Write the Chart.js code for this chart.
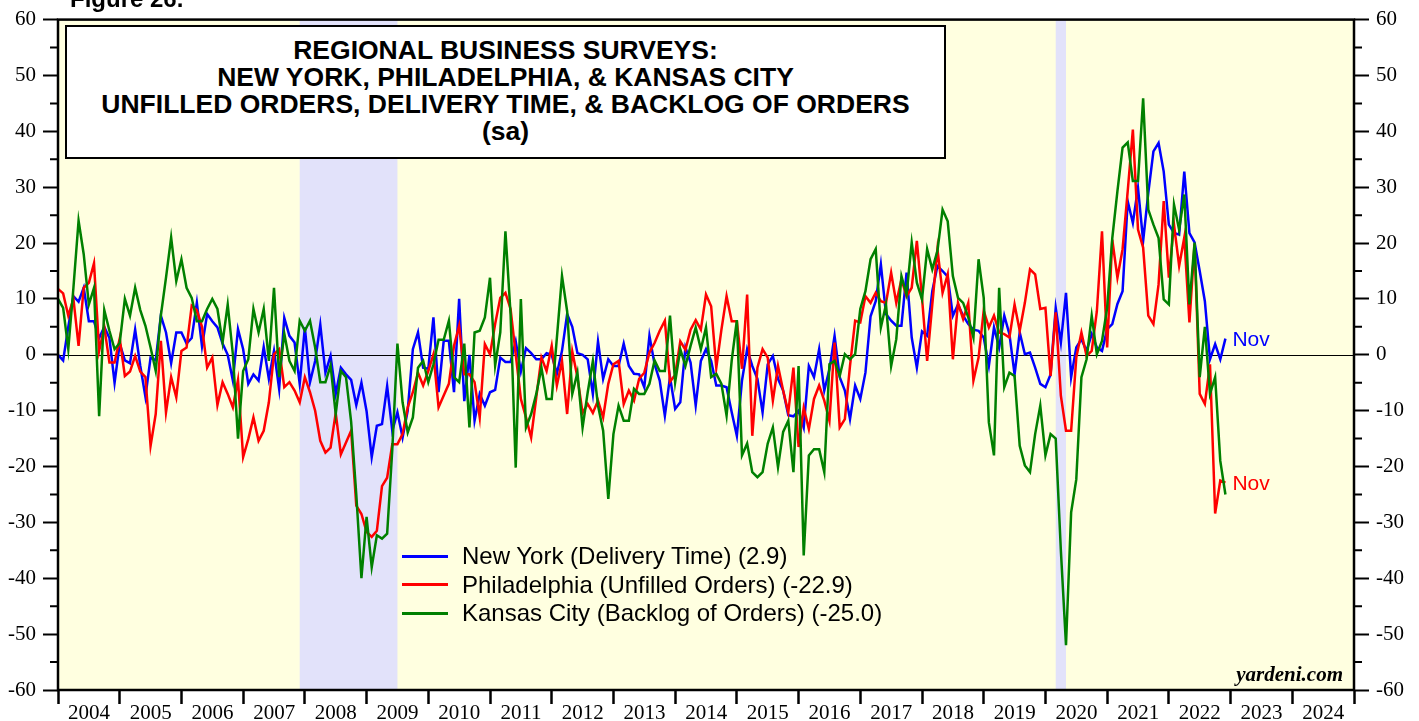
<!DOCTYPE html>
<html lang="en">
<head>
<meta charset="UTF-8">
<title>Regional Business Surveys: New York, Philadelphia, & Kansas City</title>
<script src="https://cdn.jsdelivr.net/npm/chart.js"></script>
<style>
    body { margin: 0; background: #fff; }
    #wrap { position: relative; width: 1419px; height: 721px; overflow: hidden; }
    #chart { position: absolute; left: 0; top: 0; }
    .sans { font-family: 'Liberation Sans', Arial, sans-serif; }
    #fig { position: absolute; left: 70px; top: -15px; font-size: 24px; font-weight: bold; }
    #titlebox {
        position: absolute; left: 65px; top: 25px; width: 881px; height: 134px;
        box-sizing: border-box; border: 2px solid #000; background: #fff;
        font-size: 26.5px; font-weight: bold; line-height: 27px; text-align: center; padding-top: 10px;
    }
    #legend { position: absolute; left: 402px; top: 542px; font-size: 24px; line-height: 28.5px; }
    #legend .row { display: flex; align-items: center; white-space: nowrap; }
    #legend .sw { display: inline-block; width: 46px; height: 3px; margin-right: 14px; }
    #src {
        position: absolute; right: 76px; top: 662px;
        font-family: 'Liberation Serif', 'Times New Roman', serif;
        font-size: 21px; font-weight: bold; font-style: italic;
    }
    .nov { position: absolute; font-size: 21px; line-height: 21px; }
</style>
</head>
<body>
<div id="wrap">
    <canvas id="chart" width="1419" height="721"></canvas>
    <div id="fig" class="sans">Figure 26.</div>
    <div id="titlebox" class="sans">
        REGIONAL BUSINESS SURVEYS:<br>
        NEW YORK, PHILADELPHIA, &amp; KANSAS CITY<br>
        UNFILLED ORDERS, DELIVERY TIME, &amp; BACKLOG OF ORDERS<br>
        (sa)
    </div>
    <div id="legend" class="sans"></div>
    <div id="src">yardeni.com</div>
    <div id="novNY" class="nov sans" style="color:#0000ff">Nov</div>
    <div id="novPH" class="nov sans" style="color:#ff0000">Nov</div>
</div>

<script>
    // monthly readings, first point plotted at the start of 2004
    var startYear = 2004;

    var nyValues = [
        0, -1, 5, 10.5, 9.5, 12, 6, 6, 3, 5, 3, -5,
        2, -1, -1.5, 4.5, -2, -7.5, -0.5, -1, 7, 4, -1.5, 4,
        4, 2, 3, 9.3, 1.5, 7.3, 6, 4.9, 2, 0, -4.6, 4.6,
        1, -5.2, -3.5, -4.6, 1.4, -4.3, 0.7, -6.1, 6.6, 3.4, 2.2, -5.2,
        4.9, -4.9, -1.1, 5.4, -3.2, -0.2, -7, -2.3, -3.5, -4.5, -9, -5,
        -10.1, -18.3, -12.7, -12.4, -5.6, -13.6, -10.3, -14.8, -10, 1, 4, -2.3,
        -2.5, 6.7, -6.7, 2.5, 2.5, -6.7, 10, -8.3, 0, -11.8, -7, -9.1,
        -6.7, -6.3, -0.5, -1.3, -1.3, 2.4, -3, 1.2, 0.3, -0.8, -0.8, 0.3,
        0, -3.4, 0.7, 7.3, 5, 0.3, 0, -0.8, -7, 2.4, -4.3, -0.8,
        -2, -2, 2, -2, -3.4, -3.5, -5.8, 3.4, -1.7, -4.6, -10.9, -4,
        -9.7, -8.5, 1.3, -1.4, -9.1, -1.1, 1, -1.1, -5.5, -5.5, -5.8, -10.3,
        -14.5, -4.6, 1, -2, -4.3, -10.3, -1.7, -0.2, -4.3, -6.4, -10.8, -11,
        -10, -13, -2, -4, 1, -6.4, -2.6, 3.4, -4, -6.4, -11.5, -5.5,
        -7.9, -3.2, 6.9, 9.6, 16.2, 7.3, 6.1, 5.2, 5.2, 14.7, 3.1, -2.3,
        4.2, 3.4, 11.4, 15.9, 15, 14, 7, 9, 7, 5.5, 4.5, 4.3,
        3.1, -2, 4.9, 1.3, 7, 3.7, -3.5, 4, 0.1, 0.4, -2.3, -5.2,
        -5.8, -3.5, 8.4, 2.2, 11.1, -4, 1.3, 2.8, 0.7, 3.7, 1.3, 0.7,
        4.6, 5.5, 9.1, 11.4, 27.5, 23.6, 29.9, 20.4, 29, 36.4, 37.9, 32.8,
        23.3, 21.8, 21.5, 32.8, 21.8, 20.1, 15, 9.6, -0.8, 1.9, -0.8, 2.9
    ];

    var phValues = [
        11.8, 11, 7, 10, 1.6, 12, 12.9, 16.4, 0.7, 5, -1.4, -1.4,
        2.9, -3.8, -3, -0.2, -3, -4, -16.3, -10.6, 2.5, -10.3, -4, -7.6,
        0.7, 1.3, 8.8, 8, 5, -2.3, -0.5, -9, -4.9, -7, -9.4, -4.5,
        -18.3, -15.1, -11.2, -15.4, -13.6, -8.5, 0.1, 1, -5.8, -4.9, -6.4, -8.5,
        -4, -6.7, -10, -15.4, -17.5, -16.6, -10.4, -17.8, -15.7, -13.6, -27, -28.5,
        -31.7, -32.6, -31.5, -23.5, -22, -16, -16, -14.2, -9.4, -6.7, -3.2, -5.5,
        -2.9, 0.1, -9.4, -7.3, -5.2, 1.6, 5.2, -3.5, -3.5, -4.9, -11.2, 1.9,
        0.1, 5.5, 10.2, 11.1, 8.2, 0.1, -7.9, -11.2, -14.8, -7.6, -0.5, -2.9,
        1.6, -5.5, -1.1, -10.6, 0.6, -4, -10.4, -8.8, -10.4, -8.2, -11.2, -5.2,
        -1.7, -1.1, -8.8, -6.4, -8.2, -4.3, -3.2, 0.4, 2.1, 4.3, 6.1, -4.8,
        -3.6, 2.4, 0.9, 4.5, 6.2, 4.5, 10.8, 8.7, -2.3, 4.5, 10.5, 6,
        6, -2.5, 10.8, -14.5, -2.3, 1, -0.5, -8.2, -2, -6.4, -10.3, -2.3,
        -16.5, -9.5, -13.3, -7.9, -5.5, -8.2, -11.8, 2.2, -13, -11.5, -2, 6.1,
        5.8, 10.5, 9.3, 11.1, 9.6, 9.3, 14.7, 9.3, 13.5, 10.5, 12, 20.4,
        10.2, -1.1, 9, 18.9, 11.1, 14.4, -0.8, 9.3, 6.4, 9.3, -4.6, -0.5,
        7.9, 4.9, 7, 4, 3.7, 3.1, 9, 4.3, 9.3, 15.3, 14.4, 8.2,
        8.4, -3.8, 7.6, -7.3, -13.6, -13.6, -0.5, 4, -0.2, 0.7, 7.8, 22.1,
        1.3, 20.6, 13.8, 18.9, 29.3, 40.3, 22.4, 19.2, 7, 5.5, 12.6, 27.5,
        13.8, 23.3, 15.9, 21, 5.8, 19.8, -7, -8.8, -1.7, -28.4, -22.5, -22.9
    ];

    var kcValues = [
        10, 8.4, 1, 12, 24, 18, 9, 12, -11, 8, 4.3, 1,
        2.1, 10, 7, 12, 8, 5.2, 1.3, -2.9, 7, 13.8, 21, 13.2,
        17.1, 12, 10.2, 6, 6, 8.2, 10, 8.2, 2.2, 9, 0.1, -15,
        -2.9, -0.8, 8.2, 4, 8.2, -1.1, 12, -4, 3.8, -1.1, -2.9, 6.1,
        4.3, 6.1, 1.3, -4.9, -4.9, -1.9, -10.6, -2.9, -4, -12, -25, -40,
        -29, -38, -32.3, -32.9, -32, -17, 2, -8.5, -13.9, -11.2, -2.3, -1.1,
        -4.9, -1.7, 2.7, 2.7, 6.1, -4, -4.9, 2, -13, 4, 4.3, 6.7,
        13.8, -1.9, 4, 22.1, 7.3, -20.2, 10, -13, -10.6, -7, -2.3, -7.9,
        -7.9, 3, 14.1, 7.8, -7, -3.2, -13, -6.7, -1.1, -9.1, -13.6, -25.8,
        -14.2, -9.1, -11.8, -11.8, -6.1, -7, -7, -5.2, -1, -2.9, -2.9, 7,
        -4.9, 1, -2, 1.6, 4.9, 1, 4.9, -4, -3.4, -5.2, -10.9, -1,
        6.2, -18, -15.9, -21, -21.9, -21, -15.9, -13, -20.1, -13.8, -11.8, -21,
        -2, -35.9, -18, -16.9, -16.9, -21, -1.7, -1.1, -3.8, 0.1, -0.8, 0.1,
        8.2, 11.4, 17.1, 18.9, 4.9, 9, -2, 2.8, 14.1, 10.8, 20.1, 12.9,
        9.9, 18.9, 15.3, 18.6, 26, 23.9, 14.1, 10.2, 9.3, 6.7, 3.1, 17.1,
        10.2, -12.1, -18, 12, -5.8, -3.2, -3.8, -16.3, -19.8, -21, -14.2, -9.1,
        -18, -14.2, -15, -35, -52, -28.2, -22.3, -4, -0.8, 7, 0.1, 2.5,
        8.4, 20.9, 29.3, 37.1, 38, 31.1, 31.1, 45.9, 26, 23.3, 20.9, 9.9,
        9, 26.9, 22.4, 28.7, 9, 20.1, -4, 5, -7, -4, -19, -25
    ];

    var seriesNames = [
        'New York (Delivery Time)',
        'Philadelphia (Unfilled Orders)',
        'Kansas City (Backlog of Orders)'
    ];
    var seriesColors = ['#0000ff', '#ff0000', '#008000'];

    // shaded recessions, in decimal years
    var recessions = [[2007.917, 2009.5], [2020.167, 2020.333]];

    var yearFirst = 2004, yearLast = 2025;

    function toPoints(values) {
        return values.map(function (v, i) {
            return { x: startYear + i / 12, y: v };
        });
    }

    function lastOf(values) {
        return values[values.length - 1];
    }

    var serif = "'Liberation Serif', 'Times New Roman', serif";

    var backdrop = {
        id: 'backdrop',
        beforeDraw: function (chart) {
            var ctx = chart.ctx, a = chart.chartArea, x = chart.scales.x;
            ctx.save();
            ctx.fillStyle = '#ffffe0';
            ctx.fillRect(a.left, a.top, a.width, a.height);
            ctx.fillStyle = '#e2e2fa';
            recessions.forEach(function (r) {
                var x0 = x.getPixelForValue(r[0]), x1 = x.getPixelForValue(r[1]);
                ctx.fillRect(x0, a.top, x1 - x0, a.height);
            });
            ctx.restore();
        },
        beforeDatasetsDraw: function (chart) {
            var ctx = chart.ctx, a = chart.chartArea;
            var y0 = Math.round(chart.scales.y.getPixelForValue(0)) + 0.5;
            ctx.save();
            ctx.strokeStyle = '#000';
            ctx.lineWidth = 1;
            ctx.beginPath();
            ctx.moveTo(a.left, y0);
            ctx.lineTo(a.right, y0);
            ctx.stroke();
            ctx.restore();
        },
        afterDatasetsDraw: function (chart) {
            var ctx = chart.ctx, a = chart.chartArea, y = chart.scales.y;
            ctx.save();
            ctx.strokeStyle = '#000';
            ctx.lineWidth = 2.5;
            ctx.strokeRect(a.left, a.top, a.width, a.height);
            // minor ticks every 5 on both sides
            ctx.lineWidth = 2;
            ctx.beginPath();
            for (var v = -55; v <= 55; v += 10) {
                var py = y.getPixelForValue(v);
                ctx.moveTo(a.left - 8, py);
                ctx.lineTo(a.left, py);
                ctx.moveTo(a.right, py);
                ctx.lineTo(a.right + 8, py);
            }
            ctx.stroke();
            ctx.restore();
        }
    };

    var yAxis = function (pos, width) {
        return {
            position: pos,
            min: -60,
            max: 60,
            afterFit: function (s) { s.width = width; },
            ticks: {
                stepSize: 10,
                color: '#000',
                padding: 7,
                font: { family: serif, size: 21 }
            },
            grid: { drawOnChartArea: false, tickLength: 15, tickWidth: 2, tickColor: '#000' },
            border: { display: false }
        };
    };

    var ctx = document.getElementById('chart').getContext('2d');
    var chart = new Chart(ctx, {
        type: 'line',
        data: {
            datasets: [nyValues, phValues, kcValues].map(function (vals, k) {
                return {
                    label: seriesNames[k] + ' (' + lastOf(vals).toFixed(1) + ')',
                    data: toPoints(vals),
                    borderColor: seriesColors[k],
                    borderWidth: 2.5,
                    pointRadius: 0,
                    tension: 0,
                    fill: false,
                    order: 2 - k
                };
            })
        },
        options: {
            responsive: false,
            animation: false,
            layout: { padding: { top: 18 } },
            plugins: { legend: { display: false }, tooltip: { enabled: false } },
            scales: {
                x: {
                    type: 'linear',
                    min: yearFirst,
                    max: yearLast,
                    afterFit: function (s) { s.height = 31; },
                    ticks: {
                        stepSize: 1,
                        autoSkip: false,
                        maxRotation: 0,
                        labelOffset: 31,
                        padding: -3,
                        color: '#000',
                        font: { family: serif, size: 21 },
                        callback: function (v) { return v < yearLast ? String(v) : ''; }
                    },
                    grid: { drawOnChartArea: false, tickLength: 14, tickWidth: 2.5, tickColor: '#000' },
                    border: { display: false }
                },
                y: yAxis('left', 58),
                y2: yAxis('right', 65)
            }
        },
        plugins: [backdrop]
    });

    // legend built from the datasets
    var legend = document.getElementById('legend');
    chart.data.datasets.forEach(function (ds) {
        var row = document.createElement('div');
        row.className = 'row';
        var sw = document.createElement('span');
        sw.className = 'sw';
        sw.style.background = ds.borderColor;
        row.appendChild(sw);
        row.appendChild(document.createTextNode(ds.label));
        legend.appendChild(row);
    });

    // "Nov" end labels placed at the last values
    function placeNov(id, values) {
        var el = document.getElementById(id);
        var px = chart.scales.x.getPixelForValue(startYear + (values.length - 1) / 12);
        var py = chart.scales.y.getPixelForValue(lastOf(values));
        el.style.left = (px + 7) + 'px';
        el.style.top = (py - 11) + 'px';
    }
    placeNov('novNY', nyValues);
    placeNov('novPH', phValues);
</script>
</body>
</html>
